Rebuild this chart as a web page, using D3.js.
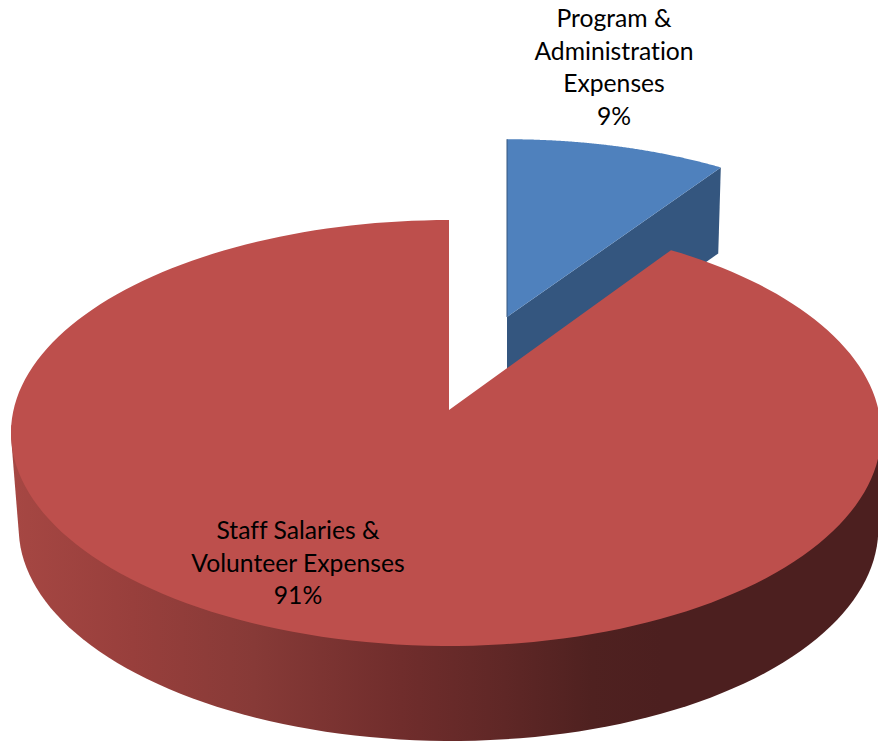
<!DOCTYPE html>
<meta charset="utf-8">
<style>
  html, body { margin: 0; background: #fff; overflow: hidden; }
  svg { display: block; }
  text { font-family: Lato, "Open Sans", sans-serif; font-size: 24.7px; fill: #000; font-variant-ligatures: none; }
</style>

<!-- Load d3.js -->
<script src="https://d3js.org/d3.v7.min.js"></script>

<div id="my_dataviz"></div>

<script>

// the data
var labels = [["Program &", "Administration", "Expenses"], ["Staff Salaries &", "Volunteer Expenses"]];
var values = [9.49, 90.51];

// colours: top face of each slice, then the shading of the red rim from left to right
var topColors = ["#4F81BD", "#BD4F4C"];
var blueSide = "#34567F";
var rimStops = [
  [0, "#A64743"], [0.14, "#983F3C"], [0.28, "#873A37"], [0.45, "#702D2C"],
  [0.57, "#5F2726"], [0.67, "#4F2120"], [0.75, "#4C1F1F"], [1, "#4C1F1F"]
];

var width = 878, height = 741;

// the pie is seen in perspective, so the circle is flattened by hand
var cx = 446,
    radius = 432.5,
    persp = -0.108,
    slope = 166.2,
    apexY = 410,
    lean = 3,
    shrink = 0.988;

// how each slice sits: explode is only for the blue one
var layout = [
  {dx: 58, dv: -0.464, rv: 1.03, ru: 1.01, depth: 86, shift: 0},
  {dx: 0, dv: 0, rv: 1, ru: 1, depth: 95, shift: 2.5}
];

function project(u, v, z, s) {
  var w = 1 + persp * v;
  var k = z > 0 ? shrink : 1;
  var sh = z > 0 ? s.shift : 0;
  return [
    cx + s.dx + sh + lean * (1 - u * u) + radius * u / w * k,
    (slope * v + apexY) / w + z
  ];
}

// point on the rim of slice s at angle a (0 = top, clockwise)
function rim(a, z, s) {
  return project(s.ru * Math.sin(a), s.dv - s.rv * Math.cos(a), z, s);
}

function apex(z, s) {
  return project(0, s.dv, z, s);
}

var svg = d3.select("#my_dataviz")
  .append("svg")
    .attr("width", width)
    .attr("height", height);

var grad = svg.append("defs").append("linearGradient")
    .attr("id", "rimShade")
    .attr("gradientUnits", "userSpaceOnUse")
    .attr("x1", 11).attr("x2", 878)
    .attr("y1", 0).attr("y2", 0);
grad.selectAll("stop")
  .data(rimStops)
  .enter()
  .append("stop")
    .attr("offset", function(d) { return d[0]; })
    .attr("stop-color", function(d) { return d[1]; });

var pie = d3.pie().sort(null).startAngle(0).endAngle(2 * Math.PI);
var arcs = pie(values);
var line = d3.line();
var total = d3.sum(values);
var pct = d3.format(".0%");

function samples(d) {
  return d3.range(0, 181).map(function(i) {
    return d.startAngle + (d.endAngle - d.startAngle) * i / 180;
  });
}

function topFace(d, s) {
  var pts = samples(d).map(function(a) { return rim(a, 0, s); });
  pts.unshift(apex(0, s));
  return line(pts) + "Z";
}

// blue slice goes first, the red one is in front of it
var blue = arcs[0], blueL = layout[0];

// the cut face of the blue slice that looks towards us
svg.append("path")
  .attr("d", line([
    apex(0, blueL),
    rim(blue.endAngle, 0, blueL),
    rim(blue.endAngle, blueL.depth, blueL),
    apex(blueL.depth, blueL)
  ]) + "Z")
  .attr("fill", blueSide);

svg.append("path")
  .attr("d", topFace(blue, blueL))
  .attr("fill", topColors[0]);

// thin dark edge on the other cut
svg.append("path")
  .attr("d", line([rim(0, 0, blueL), apex(0, blueL)]))
  .attr("stroke", blueSide)
  .attr("stroke-width", 1)
  .attr("fill", "none");

// red slice: rim first, top over it
var red = arcs[1], redL = layout[1];

// hull of the front half of both rims gives the straight sides of the drum
var front = samples(red).filter(function(a) { return Math.cos(a) <= -0.05; });
var drum = d3.polygonHull(front.map(function(a) { return rim(a, 0, redL); })
  .concat(front.map(function(a) { return rim(a, redL.depth, redL); })));

svg.append("path")
  .attr("d", line(drum) + "Z")
  .attr("fill", "url(#rimShade)");

svg.append("path")
  .attr("d", topFace(red, redL))
  .attr("fill", topColors[1]);

// Add the labels
var labelAt = [
  {x: 614, y: 27},
  {x: 298, y: 539}
];
var lineGap = 32.5;

arcs.forEach(function(d, i) {
  var lines = labels[i].concat(pct(d.value / total));
  svg.append("g")
    .selectAll("text")
    .data(lines)
    .enter()
    .append("text")
      .attr("text-anchor", "middle")
      .attr("x", labelAt[i].x)
      .attr("y", function(t, j) { return labelAt[i].y + j * lineGap; })
      .text(function(t) { return t; });
});

</script>
